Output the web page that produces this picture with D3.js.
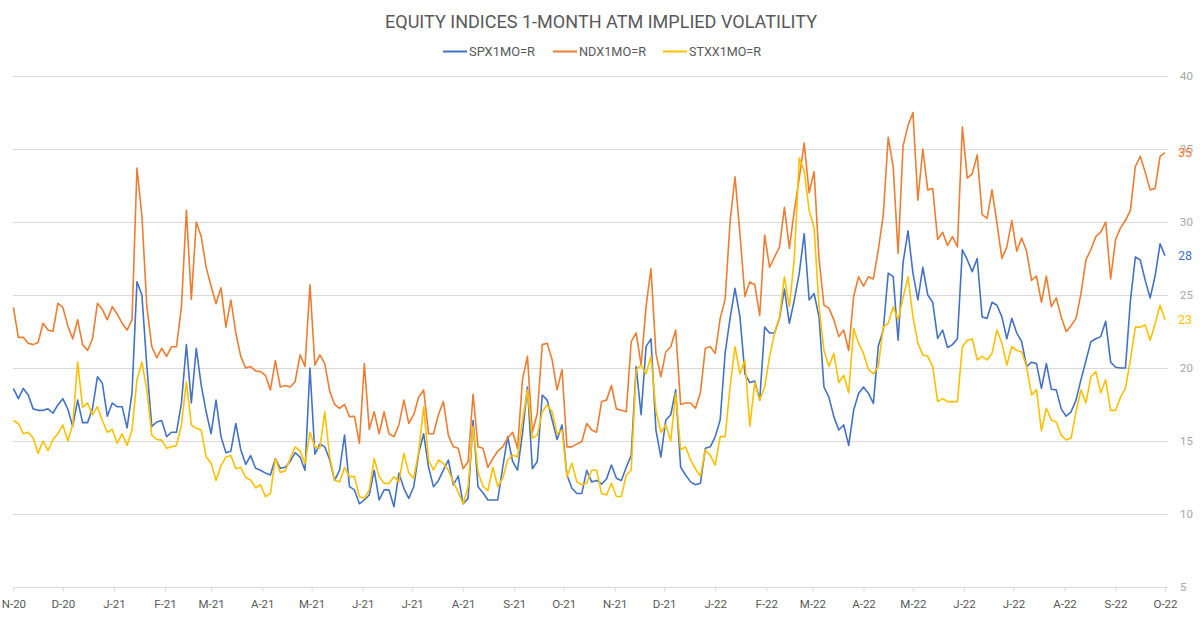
<!DOCTYPE html>
<html><head><meta charset="utf-8">
<script src="https://cdn.jsdelivr.net/npm/d3@7"></script>
<style>html,body{margin:0;padding:0;background:#fff;} svg{display:block;font-family:Roboto,"DejaVu Sans",sans-serif;}</style>
</head><body><svg id="chart" width="1200" height="617"></svg>
<script>
// ---- data (one value every 3 calendar days starting 2020-11-01) ----
const startDate = "2020-11-01";
const stepDays = 3;
const seriesNames = ["SPX1MO=R", "NDX1MO=R", "STXX1MO=R"];
const spx = [
18.6,17.9,18.6,18.15,17.2,17.1,17.1,17.2,16.9,17.47,
17.9,17.2,16.0,17.8,16.26,16.26,17.2,19.4,18.95,16.7,
17.6,17.35,17.35,15.9,18.3,25.9,25.0,20.1,16.0,16.3,
16.4,15.3,15.6,15.6,17.58,21.6,17.6,21.35,18.83,17.0,
15.5,17.8,15.3,14.2,14.3,16.2,14.4,13.4,14.0,13.13,
13.0,12.8,12.67,13.8,13.13,13.2,13.6,14.2,13.9,13.0,
20.0,14.1,14.8,14.6,13.7,12.3,13.0,15.4,11.87,11.65,
10.7,10.96,11.3,13.0,10.96,11.65,11.65,10.5,12.8,11.76,
11.07,11.87,14.15,15.5,13.2,11.87,12.3,13.0,13.7,12.0,
12.6,10.7,11.07,16.4,11.87,11.46,10.96,10.96,10.96,13.2,
15.3,13.6,13.0,15.5,18.7,13.1,13.6,18.15,17.8,16.44,
15.1,16.1,12.67,11.76,11.4,11.4,13.0,12.2,12.3,12.05,
12.4,13.35,12.45,12.3,13.2,14.0,20.1,16.8,21.46,22.0,
15.75,13.9,16.44,16.8,18.5,13.2,12.67,12.2,12.0,12.1,
14.5,14.6,15.3,16.44,21.0,23.4,25.46,23.5,19.6,19.0,
19.1,17.8,22.8,22.4,22.4,23.4,25.4,23.06,24.66,26.5,
29.2,24.66,25.1,23.5,18.7,18.0,16.67,15.75,16.1,14.7,
17.1,18.26,18.7,18.26,17.58,21.5,22.6,26.5,26.26,21.9,
27.2,29.4,26.5,24.66,26.9,25.0,24.5,22.03,22.6,21.4,
21.6,22.0,28.1,27.4,26.6,27.5,23.5,23.4,24.5,24.3,
23.5,22.0,23.4,22.4,21.8,20.1,20.4,20.3,18.6,20.3,
18.55,18.5,17.2,16.7,17.0,17.8,19.2,20.5,21.8,22.0,
22.15,23.2,20.4,20.05,20.0,20.0,24.6,27.6,27.4,26.0,
24.8,26.3,28.5,27.7
];
const ndx = [
24.15,22.1,22.1,21.7,21.6,21.75,23.06,22.6,22.5,24.43,
24.15,22.9,22.0,23.3,21.6,21.2,22.0,24.43,24.0,23.3,
24.2,23.7,23.06,22.6,23.3,33.7,30.4,24.2,21.46,20.7,
21.35,20.8,21.46,21.46,24.2,30.8,24.7,30.0,29.0,26.9,
25.6,24.4,25.5,22.8,24.66,22.4,20.8,20.0,20.1,19.8,
19.75,19.5,18.5,20.5,18.7,18.8,18.7,19.06,20.9,20.1,
25.7,20.2,20.9,20.3,18.4,17.5,17.24,17.5,16.67,16.7,
14.84,20.3,15.8,17.0,15.5,17.0,15.5,15.3,16.1,17.8,
16.2,16.8,18.0,18.5,15.5,15.5,16.8,17.7,15.4,14.6,
14.5,13.1,13.6,18.2,14.6,14.5,13.2,13.8,14.3,14.6,
15.2,15.6,14.5,19.2,20.8,15.6,16.9,21.6,21.7,20.55,
18.5,19.9,14.6,14.6,14.8,14.95,16.2,15.75,15.6,17.7,
17.8,18.8,17.2,17.1,17.0,21.8,22.4,20.2,24.2,26.8,
21.0,19.4,21.1,21.46,22.6,17.5,17.6,17.6,17.25,18.3,
21.35,21.46,21.0,23.4,24.7,30.0,33.1,29.2,24.9,25.9,
25.7,23.6,29.1,26.9,27.6,28.3,31.0,28.2,30.8,33.0,
35.4,32.0,33.45,27.5,24.3,24.1,23.3,22.15,22.6,21.2,
24.9,26.25,25.6,26.25,26.1,28.1,30.5,35.8,33.8,27.85,
35.2,36.6,37.5,31.5,35.0,32.2,32.3,28.8,29.3,28.4,
29.0,28.3,36.5,33.0,33.3,34.6,30.5,30.25,32.2,29.9,
27.5,28.3,30.1,28.0,28.9,28.0,26.0,26.3,24.5,26.3,
24.2,24.8,23.5,22.5,22.9,23.4,25.1,27.4,28.1,29.0,
29.3,30.0,26.1,28.8,29.6,30.1,30.8,33.8,34.5,33.4,
32.2,32.3,34.5,34.75
];
const stxx = [
16.4,16.2,15.5,15.6,15.2,14.15,15.0,14.34,15.1,15.5,
16.1,15.0,16.1,20.4,17.3,17.6,16.8,17.35,16.4,15.6,
15.8,14.84,15.5,14.7,15.75,19.2,20.4,18.5,15.4,15.1,
15.06,14.5,14.6,14.7,16.1,19.06,16.1,15.87,15.75,13.9,
13.5,12.3,13.3,13.9,14.0,13.1,13.2,12.5,12.33,11.8,
12.0,11.19,11.4,13.8,12.85,12.95,13.8,14.6,14.3,13.47,
15.6,14.6,14.5,17.0,13.9,12.33,12.2,13.2,12.56,12.56,
11.2,11.07,11.65,13.8,12.56,12.1,12.1,12.56,12.2,14.15,
12.8,12.45,14.27,17.35,13.7,13.0,13.7,13.47,13.0,12.2,
11.5,10.7,11.87,16.0,12.9,11.9,11.6,13.2,11.87,12.45,
13.7,14.04,13.9,16.4,18.5,15.2,15.4,17.0,17.47,17.0,
15.5,15.75,12.56,13.47,12.2,12.0,12.1,13.0,13.0,11.4,
11.3,12.1,11.2,11.2,12.67,13.0,19.86,20.2,19.6,20.8,
17.1,15.6,16.1,15.0,18.26,14.4,14.6,13.7,13.1,12.56,
14.4,14.0,13.35,15.3,15.3,18.7,21.46,19.6,20.55,16.0,
19.0,17.8,18.7,20.8,22.4,23.5,26.25,24.2,27.5,34.4,
33.5,30.8,29.6,24.2,21.2,20.1,21.0,19.0,19.5,18.3,
22.7,21.7,21.0,19.9,19.6,20.1,22.8,23.06,24.2,23.3,
24.8,26.25,23.5,21.7,20.9,20.8,20.1,17.7,17.9,17.7,
17.7,17.7,21.46,21.9,22.0,20.55,20.8,20.55,21.0,22.6,
21.7,20.2,21.46,21.2,21.1,20.1,18.15,18.5,15.7,17.24,
16.44,16.3,15.4,15.07,15.2,17.0,18.5,17.6,19.4,19.75,
18.3,19.2,17.1,17.1,18.0,18.6,20.55,22.8,22.8,22.95,
21.9,23.05,24.3,23.3
];
const yTicks = [5, 10, 15, 20, 25, 30, 35, 40];
const titleText = "EQUITY INDICES 1-MONTH ATM IMPLIED VOLATILITY";
const colors = ["#4472C4", "#ED7D31", "#FFC000"];

// ---- chart ----
const svg = d3.select("#chart");
svg.append("rect").attr("width", 1200).attr("height", 617).attr("fill", "#fff");

const parse = d3.timeParse("%Y-%m-%d");
const t0 = parse(startDate);
const dates = spx.map((_, i) => d3.timeDay.offset(t0, i * stepDays));
const x = d3.scaleTime().domain([parse("2020-11-01"), parse("2022-10-01")]).range([13.4, 1165]);
const y = d3.scaleLinear().domain([5, 40]).range([587, 76]);
const gridX0 = 13, gridX1 = 1168;

// gridlines
svg.append("g").selectAll("line").data(yTicks).join("line")
  .attr("x1", gridX0).attr("x2", gridX1)
  .attr("y1", d => Math.round(y(d)) + 0.5).attr("y2", d => Math.round(y(d)) + 0.5)
  .attr("stroke", "#d9d9d9").attr("stroke-width", 1);

// x axis (month ticks)
const months = d3.timeMonth.range(parse("2020-11-01"), d3.timeDay.offset(parse("2022-10-01"), 1));
const fmtM = d3.timeFormat("%b"), fmtY = d3.timeFormat("%y");
const xAxis = d3.axisBottom(x).tickValues(months)
  .tickFormat(d => fmtM(d)[0] + "-" + fmtY(d)).tickSize(4).tickPadding(8);
const gx = svg.append("g").attr("transform", `translate(0,${Math.round(y(5)) + 0.5})`).call(xAxis);
gx.select(".domain").remove();
gx.selectAll(".tick line").attr("stroke", "#d9d9d9");
gx.selectAll(".tick text").attr("fill", "#595959").attr("font-size", 11.5)
  .attr("font-family", "Roboto, sans-serif");

// y axis on right
const yAxis = d3.axisRight(y).tickValues(yTicks).tickSize(0).tickPadding(12);
const gy = svg.append("g").attr("transform", `translate(${gridX1},0)`).call(yAxis);
gy.select(".domain").remove();
gy.selectAll(".tick text").attr("fill", "#a6a6a6").attr("font-size", 11.5)
  .attr("font-family", "Roboto, sans-serif");

// lines
const seriesData = [spx, ndx, stxx];
const line = d3.line().x((d, i) => x(dates[i])).y(d => y(d));
seriesData.forEach((vals, k) => {
  svg.append("path").datum(vals).attr("d", line)
    .attr("fill", "none").attr("stroke", colors[k]).attr("stroke-width", 1.6)
    .attr("stroke-linejoin", "round");
});

// end labels
const endOrder = [1, 0, 2];
endOrder.forEach(k => {
  const vals = seriesData[k];
  const v = vals[vals.length - 1];
  svg.append("text").attr("x", 1178).attr("y", y(v)).attr("dy", "0.35em")
    .attr("fill", colors[k]).attr("font-size", 12.5)
    .text(Math.round(v));
});

// title
svg.append("text").attr("x", 601).attr("y", 28).attr("text-anchor", "middle")
  .attr("fill", "#595959").attr("font-size", 18)
  .attr("textLength", 432).attr("lengthAdjust", "spacingAndGlyphs")
  .text(titleText);

// legend
const legX = [443, 553, 663];
const legW = [66, 67, 72];
seriesNames.forEach((name, k) => {
  svg.append("line").attr("x1", legX[k]).attr("x2", legX[k] + 24)
    .attr("y1", 51.5).attr("y2", 51.5).attr("stroke", colors[k]).attr("stroke-width", 2);
  svg.append("text").attr("x", legX[k] + 26).attr("y", 51.5).attr("dy", "0.35em")
    .attr("fill", "#595959").attr("font-size", 12.5)
    .attr("textLength", legW[k]).attr("lengthAdjust", "spacingAndGlyphs")
    .text(name);
});
</script>
</body></html>
